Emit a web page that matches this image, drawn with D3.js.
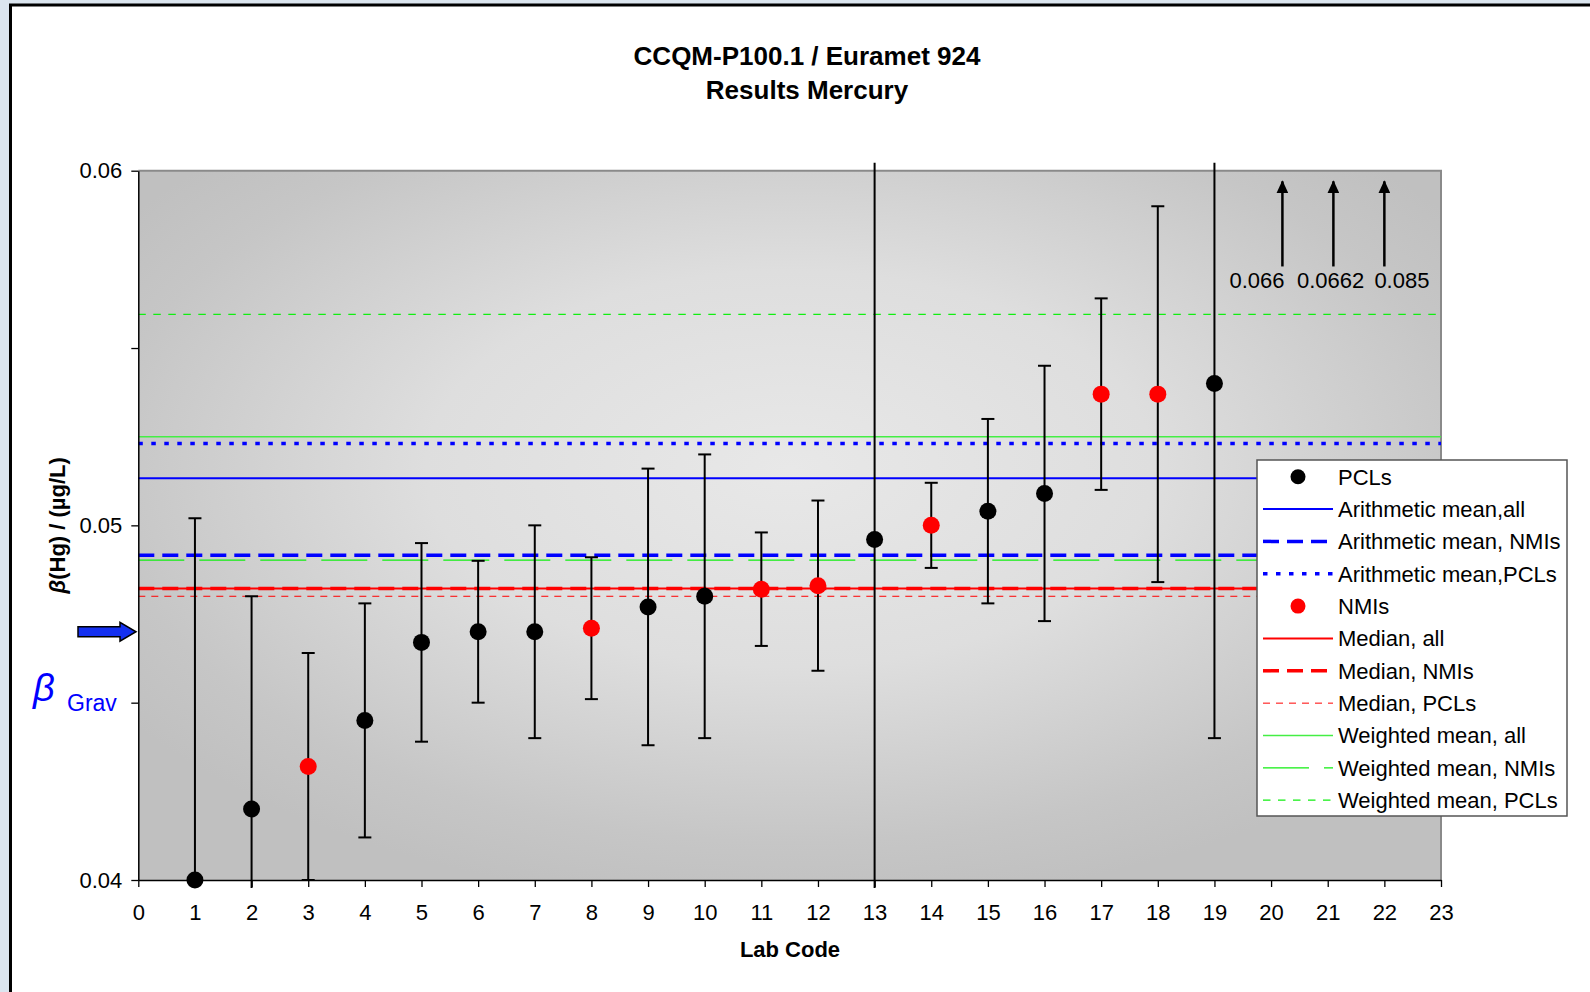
<!DOCTYPE html>
<html>
<head>
<meta charset="utf-8">
<script src="https://cdn.jsdelivr.net/npm/d3@7"></script>
<style>
  html, body { margin: 0; padding: 0; background: #fff; }
  #graph { width: 1590px; height: 992px; }
  svg { display: block; font-family: 'Liberation Sans', Arial, sans-serif; }
</style>
</head>
<body>
<div id="graph"></div>
<script>
// lab results (one point + expanded uncertainty per lab)
const labCodes = [1, 2, 3, 4, 5, 6, 7, 8, 9, 10, 11, 12, 13, 14, 15, 16, 17, 18, 19];
const labValues = [
  0.0400, 0.0420, 0.0432, 0.0445, 0.0467, 0.0470, 0.0470, 0.0471, 0.0477, 0.0480,
  0.0482, 0.0483, 0.0496, 0.0500, 0.0504, 0.0509, 0.0537, 0.0537, 0.0540,
];
const labUncertainties = [
  0.0102, 0.0060, 0.0032, 0.0033, 0.0028, 0.0020, 0.0030, 0.0020, 0.0039, 0.0040,
  0.0016, 0.0024, 0.0125, 0.0012, 0.0026, 0.0036, 0.0027, 0.0053, 0.0100,
];
const labGroups = [
  'PCLs', 'PCLs', 'NMIs', 'PCLs', 'PCLs', 'PCLs', 'PCLs', 'NMIs', 'PCLs', 'PCLs',
  'NMIs', 'NMIs', 'PCLs', 'NMIs', 'PCLs', 'PCLs', 'NMIs', 'NMIs', 'PCLs',
];

// summary values drawn as horizontal lines
const statNames = [
  'Arithmetic mean,all',
  'Arithmetic mean, NMIs',
  'Arithmetic mean,PCLs',
  'Median, all',
  'Median, NMIs',
  'Median, PCLs',
  'Weighted mean, all',
  'Weighted mean, NMIs',
  'Weighted mean, PCLs',
];
const statValues = [0.05133, 0.04916, 0.05231, 0.04822, 0.04822, 0.04800, 0.05250, 0.04902, 0.05595];

// results above the y range (arrows)
const offScaleCodes = [20.2, 21.1, 22.0];
const offScaleLabels = ['0.066', '0.0662', '0.085'];
const offScaleLabelCodes = [19.75, 21.05, 22.31];
const offScaleArrowFrom = 0.0573;
const offScaleArrowTo = 0.0597;

// gravimetric reference value
const betaGrav = 0.0470;

// ticks
const xTicks = d3.range(0, 24);
const yTicks = [0.04, 0.045, 0.05, 0.055, 0.06];
const yLabelTicks = [0.04, 0.05, 0.06];

class Chart {
  constructor() {
    this.width = 1590;
    this.height = 992;
    this.plot = {
      left: 138.3,
      right: 1441,
      top: 170.7,
      bottom: 880,
    };
    this.colors = {
      PCLs: '#000000',
      NMIs: '#ff0000',
      blue: '#0000ff',
      red: '#ff0000',
    };
    this.lineStyles = {
      'Arithmetic mean,all': { color: '#0000ff', width: 2, dash: null },
      'Arithmetic mean, NMIs': { color: '#0000ff', width: 3.5, dash: '16,8' },
      'Arithmetic mean,PCLs': { color: '#0000ff', width: 3.5, dash: '4.5,8.5' },
      'Median, all': { color: '#ff0000', width: 2, dash: null },
      'Median, NMIs': { color: '#ff0000', width: 3.5, dash: '16,8' },
      'Median, PCLs': { color: '#ff0000', width: 1, dash: '7,6' },
      'Weighted mean, all': { color: '#44ee44', width: 1.5, dash: null },
      'Weighted mean, NMIs': { color: '#11ee11', width: 1.2, dash: '46,15' },
      'Weighted mean, PCLs': { color: '#11ee11', width: 1.2, dash: '7.5,7.5' },
    };
    this.fontSize = 22;

    const { plot } = this;
    this.x = d3.scaleLinear().domain([0, 23]).range([plot.left, plot.right]);
    this.y = d3.scaleLinear().domain([0.04, 0.06]).range([plot.bottom, plot.top]);

    this.initSvg();
    this.drawFrame();
    this.drawPlotArea();
    this.drawStatLines();
    this.drawResults();
    this.drawOffScale();
    this.drawAxes();
    this.drawGrav();
    this.drawLegend();
    this.drawTitles();
  }

  initSvg() {
    this.svg = d3.select('#graph')
      .append('svg')
      .attr('width', this.width)
      .attr('height', this.height);
    this.defs = this.svg.append('defs');
  }

  drawFrame() {
    const { svg, width, height } = this;
    // slide background peeking out left/top
    svg.append('rect')
      .attr('width', width)
      .attr('height', height)
      .attr('fill', '#dbe5ef');
    svg.append('rect')
      .attr('x', 10)
      .attr('y', 4)
      .attr('width', width - 10)
      .attr('height', height - 4)
      .attr('fill', '#fff');
    svg.append('path')
      .attr('d', `M10.5,${height} V5 H${width}`)
      .attr('fill', 'none')
      .attr('stroke', '#000')
      .attr('stroke-width', 3);
  }

  drawPlotArea() {
    const { svg, defs, plot } = this;
    const grad = defs.append('radialGradient')
      .attr('id', 'plotBg')
      .attr('cx', 0.5)
      .attr('cy', 0.42)
      .attr('r', 0.62);
    grad.append('stop').attr('offset', 0).attr('stop-color', '#e8e8e8');
    grad.append('stop').attr('offset', 0.45).attr('stop-color', '#dedede');
    grad.append('stop').attr('offset', 0.85).attr('stop-color', '#c6c6c6');
    grad.append('stop').attr('offset', 1).attr('stop-color', '#c0c0c0');

    svg.append('rect')
      .attr('x', plot.left)
      .attr('y', plot.top)
      .attr('width', plot.right - plot.left)
      .attr('height', plot.bottom - plot.top)
      .attr('fill', 'url(#plotBg)');

    // gray border top / right
    svg.append('path')
      .attr('d', `M${plot.left},${plot.top} H${plot.right} V${plot.bottom}`)
      .attr('fill', 'none')
      .attr('stroke', '#8a8a8a')
      .attr('stroke-width', 2);

    // clip for error bars (they run a little past the plot)
    defs.append('clipPath')
      .attr('id', 'barClip')
      .append('rect')
      .attr('x', plot.left)
      .attr('y', plot.top - 8)
      .attr('width', plot.right - plot.left)
      .attr('height', plot.bottom - plot.top + 16);
  }

  drawStatLines() {
    const { svg, x, y, lineStyles } = this;
    const data = statNames.map((name, i) => ({ name, value: statValues[i] }));

    svg.append('g')
      .selectAll('line')
      .data(data)
      .join('line')
      .attr('x1', x(0))
      .attr('x2', x(23))
      .attr('y1', (d) => y(d.value))
      .attr('y2', (d) => y(d.value))
      .attr('stroke', (d) => lineStyles[d.name].color)
      .attr('stroke-width', (d) => lineStyles[d.name].width)
      .attr('stroke-dasharray', (d) => lineStyles[d.name].dash);
  }

  drawResults() {
    const { svg, x, y, colors } = this;
    const data = labCodes.map((code, i) => ({
      code,
      value: labValues[i],
      u: labUncertainties[i],
      group: labGroups[i],
    }));
    const capHalf = 6.5;

    const bars = svg.append('g')
      .attr('clip-path', 'url(#barClip)')
      .attr('stroke', '#000')
      .attr('stroke-width', 2);

    // vertical error bars
    bars.selectAll('line.bar')
      .data(data)
      .join('line')
      .attr('class', 'bar')
      .attr('x1', (d) => x(d.code))
      .attr('x2', (d) => x(d.code))
      .attr('y1', (d) => y(d.value + d.u))
      .attr('y2', (d) => y(d.value - d.u));

    // caps
    const caps = data.flatMap((d) => [
      { code: d.code, value: d.value + d.u },
      { code: d.code, value: d.value - d.u },
    ]);
    bars.selectAll('line.cap')
      .data(caps)
      .join('line')
      .attr('class', 'cap')
      .attr('x1', (d) => x(d.code) - capHalf)
      .attr('x2', (d) => x(d.code) + capHalf)
      .attr('y1', (d) => y(d.value))
      .attr('y2', (d) => y(d.value));

    // points
    svg.append('g')
      .selectAll('circle')
      .data(data)
      .join('circle')
      .attr('cx', (d) => x(d.code))
      .attr('cy', (d) => y(d.value))
      .attr('r', 8.5)
      .attr('fill', (d) => colors[d.group]);
  }

  drawOffScale() {
    const { svg, defs, x, y } = this;

    defs.append('marker')
      .attr('id', 'arrowHead')
      .attr('markerUnits', 'userSpaceOnUse')
      .attr('viewBox', '0 -6 13 12')
      .attr('refX', 12)
      .attr('refY', 0)
      .attr('markerWidth', 13)
      .attr('markerHeight', 12)
      .attr('orient', 'auto')
      .append('path')
      .attr('d', 'M0,-6 L13,0 L0,6 Z')
      .attr('fill', '#000');

    svg.append('g')
      .selectAll('line')
      .data(offScaleCodes)
      .join('line')
      .attr('x1', (d) => x(d))
      .attr('x2', (d) => x(d))
      .attr('y1', y(offScaleArrowFrom))
      .attr('y2', y(offScaleArrowTo))
      .attr('stroke', '#000')
      .attr('stroke-width', 2.5)
      .attr('marker-end', 'url(#arrowHead)');

    svg.append('g')
      .selectAll('text')
      .data(offScaleLabels)
      .join('text')
      .attr('x', (d, i) => x(offScaleLabelCodes[i]))
      .attr('y', y(offScaleArrowFrom) + 22)
      .attr('text-anchor', 'middle')
      .attr('font-size', this.fontSize)
      .attr('fill', '#000')
      .text((d) => d);
  }

  drawAxes() {
    const { svg, x, y, plot, fontSize } = this;

    // Add X axis
    const xAxis = svg.append('g')
      .attr('transform', `translate(0,${plot.bottom})`)
      .call(d3.axisBottom(x)
        .tickValues(xTicks)
        .tickFormat(d3.format('d'))
        .tickSize(7)
        .tickSizeOuter(0)
        .tickPadding(17));

    // Add Y axis
    const yAxis = svg.append('g')
      .attr('transform', `translate(${plot.left},0)`)
      .call(d3.axisLeft(y)
        .tickValues(yTicks)
        .tickFormat((d) => (yLabelTicks.includes(d) ? d3.format('.2f')(d) : ''))
        .tickSize(7)
        .tickSizeOuter(0)
        .tickPadding(9));

    [xAxis, yAxis].forEach((axis) => {
      axis.attr('font-family', null).attr('font-size', fontSize);
      axis.select('.domain').attr('stroke', '#000').attr('stroke-width', 1.5);
      axis.selectAll('.tick line').attr('stroke', '#000').attr('stroke-width', 1.3);
      axis.selectAll('.tick text').attr('fill', '#000');
    });
  }

  drawGrav() {
    const { svg, y } = this;
    const yg = y(betaGrav);

    // blue block arrow pointing at the plot
    svg.append('path')
      .attr('d', `M78,${yg - 5} H120 V${yg - 9.5} L136,${yg} L120,${yg + 9.5} V${yg + 5} H78 Z`)
      .attr('fill', '#1430f0')
      .attr('stroke', '#000')
      .attr('stroke-width', 1.5);

    const label = svg.append('text')
      .attr('x', 33)
      .attr('y', 701)
      .attr('fill', this.colors.blue);
    label.append('tspan')
      .attr('font-size', 38)
      .attr('font-style', 'italic')
      .text('β');
    label.append('tspan')
      .attr('x', 67)
      .attr('y', 711)
      .attr('font-size', 23)
      .text('Grav');
  }

  drawLegend() {
    const { svg, lineStyles, colors, fontSize } = this;
    const box = {
      x: 1257, y: 460, w: 310, h: 356,
    };
    const items = [
      { name: 'PCLs', point: true },
      ...statNames.slice(0, 3).map((name) => ({ name })),
      { name: 'NMIs', point: true },
      ...statNames.slice(3).map((name) => ({ name })),
    ];
    const rowStep = 32.35;
    const firstRow = box.y + 16.7;

    const legend = svg.append('g');
    legend.append('rect')
      .attr('x', box.x)
      .attr('y', box.y)
      .attr('width', box.w)
      .attr('height', box.h)
      .attr('fill', '#fff')
      .attr('stroke', '#555')
      .attr('stroke-width', 1.5);

    const rows = legend.selectAll('g.row')
      .data(items)
      .join('g')
      .attr('class', 'row')
      .attr('transform', (d, i) => `translate(0,${firstRow + i * rowStep})`);

    rows.filter((d) => d.point)
      .append('circle')
      .attr('cx', box.x + 41)
      .attr('cy', 0)
      .attr('r', 7.5)
      .attr('fill', (d) => colors[d.name]);

    rows.filter((d) => !d.point)
      .append('line')
      .attr('x1', box.x + 6)
      .attr('x2', box.x + 76)
      .attr('stroke', (d) => lineStyles[d.name].color)
      .attr('stroke-width', (d) => lineStyles[d.name].width)
      .attr('stroke-dasharray', (d) => lineStyles[d.name].dash);

    rows.append('text')
      .attr('x', box.x + 81)
      .attr('dy', '0.36em')
      .attr('font-size', fontSize)
      .attr('fill', '#000')
      .text((d) => d.name);
  }

  drawTitles() {
    const { svg, plot } = this;

    const title = svg.append('text')
      .attr('text-anchor', 'middle')
      .attr('font-size', 26)
      .attr('font-weight', 'bold')
      .attr('fill', '#000');
    title.append('tspan').attr('x', 807).attr('y', 65).text('CCQM-P100.1 / Euramet 924');
    title.append('tspan').attr('x', 807).attr('y', 99).text('Results Mercury');

    svg.append('text')
      .attr('x', 790)
      .attr('y', 957)
      .attr('text-anchor', 'middle')
      .attr('font-size', 22)
      .attr('font-weight', 'bold')
      .attr('fill', '#000')
      .text('Lab Code');

    const yTitle = svg.append('text')
      .attr('transform', `translate(65,${(plot.top + plot.bottom) / 2}) rotate(-90)`)
      .attr('text-anchor', 'middle')
      .attr('font-size', 22)
      .attr('font-weight', 'bold')
      .attr('fill', '#000');
    yTitle.append('tspan').attr('font-style', 'italic').text('β');
    yTitle.append('tspan').text('(Hg) / (µg/L)');
  }
}

new Chart();
</script>
</body>
</html>
